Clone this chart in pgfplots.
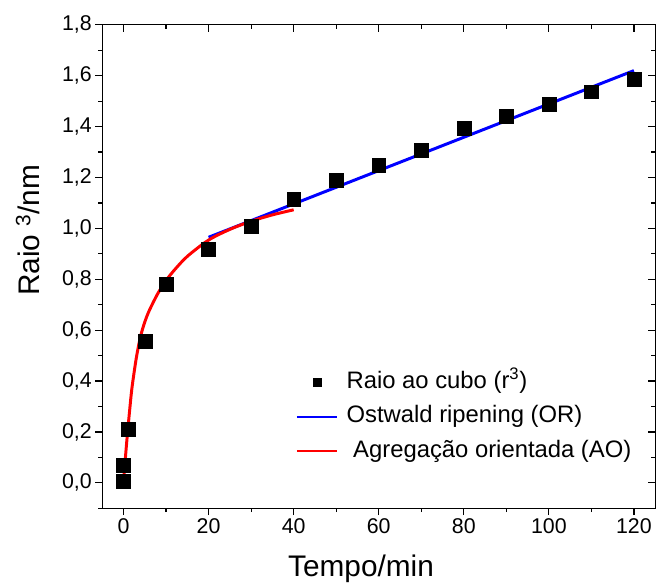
\documentclass[border=0pt]{standalone}
\usepackage{fontspec}
\setmainfont{Liberation Sans}
\usepackage{pgfplots}
\pgfplotsset{compat=1.18}
\begin{document}
\begin{tikzpicture}
\pgfplotsset{
  common/.style={
    scale only axis, width=557pt, height=487pt,
    xmin=-5, xmax=125, ymin=-0.1, ymax=1.8,
    xtick={0,20,40,60,80,100,120}, minor xtick={10,30,50,70,90,110},
    ytick={0,0.2,0.4,0.6,0.8,1.0,1.2,1.4,1.6,1.8},
    minor ytick={-0.1,0.1,0.3,0.5,0.7,0.9,1.1,1.3,1.5,1.7},
    major tick length=7pt, minor tick length=4pt,
    every tick/.style={line width=1.2pt, black},
    axis line style={line width=1.3pt},
  }
}
\begin{axis}[common, name=ax,
  tick align=outside, xtick pos=left, ytick pos=left,
  /pgf/number format/assume math mode=true,
  /pgf/number format/use comma,
  yticklabel style={/pgf/number format/.cd, fixed, fixed zerofill, precision=1, use comma, assume math mode=true},
  xticklabel style={/pgf/number format/.cd, fixed, assume math mode=true},
  ticklabel style={font=\fontsize{21.5}{24}\selectfont},
  xlabel={Tempo/min}, ylabel={Raio \textsuperscript{3}/nm},
  xlabel style={font=\fontsize{30}{34}\selectfont, at={(axis description cs:0.468,-0.142)}, anchor=base},
  ylabel style={font=\fontsize{30}{34}\selectfont, at={(axis description cs:-0.135,0.575)}, anchor=center},
  legend style={draw=none, fill=none, at={(axis description cs:0.35,0.287)}, anchor=north west,
    font=\fontsize{24}{28}\selectfont, inner sep=0pt, row sep=8.5pt, column sep=8pt,
    nodes={text height=18pt, text depth=6pt, inner sep=1pt}},
  legend cell align=left,
]
\addplot[only marks, mark=square*, mark size=7pt, black,
  legend image code/.code={\draw[mark=square*, mark size=4pt, black] plot coordinates {(20pt,0pt)};}]
  coordinates {(0,0.005) (0,0.07) (1,0.21) (5,0.558) (10,0.78) (20,0.918) (30,1.01) (40,1.115) (50,1.188) (60,1.248) (70,1.308) (80,1.395) (90,1.442) (100,1.487) (110,1.537) (120,1.588)};
\addlegendentry{Raio ao cubo (r\textsuperscript{3})}
\addplot[blue, line width=3pt,
  legend image code/.code={\draw[blue, line width=2pt] (0pt,0pt) -- (40pt,0pt);}]
  coordinates {(20,0.965) (120,1.62)};
\addlegendentry{Ostwald ripening (OR)}
\addplot[red, line width=3pt, smooth,
  legend image code/.code={\draw[red, line width=2pt] (0pt,0pt) -- (40pt,0pt);}]
  coordinates {(0,0) (0.5,0.11) (1,0.207) (1.5,0.295) (2,0.375) (3,0.49) (4,0.575) (5,0.632) (6,0.675) (8,0.742) (10,0.795) (12,0.837) (15,0.89) (20,0.954) (25,0.996) (30,1.028) (35,1.053) (40,1.073)};
\addlegendentry{\ Agregação orientada (AO)}
\end{axis}
\begin{axis}[common, tick align=inside, xtick pos=right, ytick pos=right,
  xticklabels={}, yticklabels={}]
\end{axis}
\path ([xshift=-103pt,yshift=-77pt]ax.south west) rectangle ([xshift=2pt,yshift=25pt]ax.north east);
\end{tikzpicture}
\end{document}
